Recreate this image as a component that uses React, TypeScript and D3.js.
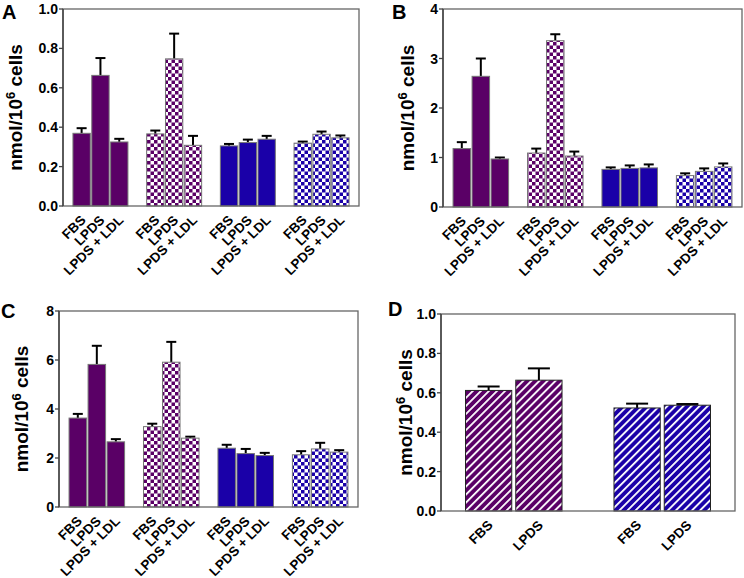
import React from 'react';
import * as d3 from 'd3';

const PURPLE = '#5a0066';
const BLUE = '#1a00a8';

const CONDS3 = ['FBS', 'LPDS', 'LPDS + LDL'];
const CONDS2 = ['FBS', 'LPDS'];
const GROUPS4 = ['purple-solid', 'purple-check', 'blue-solid', 'blue-check'];
const GROUPS2 = ['purple-stripe', 'blue-stripe'];

// mean values per group (rows) and condition (cols)
const A_MEAN = [[0.369, 0.663, 0.325], [0.366, 0.747, 0.308], [0.305, 0.322, 0.339], [0.319, 0.364, 0.346]];
const A_ERR = [[0.026, 0.088, 0.016], [0.017, 0.128, 0.048], [0.010, 0.015, 0.017], [0.008, 0.014, 0.012]];
const B_MEAN = [[1.18, 2.64, 0.97], [1.09, 3.36, 1.03], [0.76, 0.78, 0.79], [0.635, 0.72, 0.81]];
const B_ERR = [[0.13, 0.36, 0.03], [0.09, 0.13, 0.09], [0.04, 0.06, 0.07], [0.045, 0.06, 0.07]];
const C_MEAN = [[3.63, 5.82, 2.66], [3.28, 5.91, 2.81], [2.40, 2.18, 2.10], [2.13, 2.37, 2.24]];
const C_ERR = [[0.17, 0.76, 0.11], [0.12, 0.83, 0.06], [0.14, 0.19, 0.11], [0.15, 0.25, 0.08]];
const D_MEAN = [[0.612, 0.664], [0.523, 0.537]];
const D_ERR = [[0.020, 0.060], [0.022, 0.006]];

const TICKS_1 = [0, 0.2, 0.4, 0.6, 0.8, 1.0];
const TICKS_4 = [0, 1, 2, 3, 4];
const TICKS_8 = [0, 2, 4, 6, 8];

const FILLS: Record<string, string> = {
  'purple-solid': PURPLE,
  'purple-check': 'url(#checkP)',
  'blue-solid': BLUE,
  'blue-check': 'url(#checkB)',
  'purple-stripe': 'url(#stripeP)',
  'blue-stripe': 'url(#stripeB)',
};

const FONT = 'Liberation Sans, Arial, sans-serif';

interface PanelProps {
  letter: string;
  letterX: number;
  letterY: number;
  box: [number, number, number, number]; // left, top, right, bottom
  max: number;
  ticks: number[];
  fmt: (v: number) => string;
  labelX: number;
  groups: string[];
  conds: string[];
  means: number[][];
  errs: number[][];
  outerPad: [number, number];
  capW: number;
  stroke: string;
}

const Panel: React.FC<PanelProps> = (p) => {
  const [left, top, right, bottom] = p.box;
  const y = d3.scaleLinear().domain([0, p.max]).range([bottom, top]);
  const outer = d3.scaleBand<string>().domain(p.groups).range([left, right])
    .paddingInner(p.outerPad[0]).paddingOuter(p.outerPad[1]);
  const inner = d3.scaleBand<string>().domain(p.conds).range([0, outer.bandwidth()]).paddingInner(0.08);

  return (
    <g>
      <text x={p.letterX} y={p.letterY} fontFamily={FONT} fontWeight="bold" fontSize={20}>{p.letter}</text>
      {p.groups.map((g, gi) => p.conds.map((c, ci) => {
        const x0 = (outer(g) ?? 0) + (inner(c) ?? 0);
        const w = inner.bandwidth();
        const v = p.means[gi][ci];
        const e = p.errs[gi][ci];
        const cx = x0 + w / 2;
        return (
          <g key={g + c}>
            <line x1={cx} x2={cx} y1={y(v)} y2={y(v + e)} stroke="#000" strokeWidth={2} />
            <line x1={cx - p.capW / 2} x2={cx + p.capW / 2} y1={y(v + e)} y2={y(v + e)} stroke="#000" strokeWidth={2} />
            <rect x={x0} y={y(v)} width={w} height={bottom - y(v)} fill={FILLS[g]} stroke={p.stroke} strokeWidth={1} />
            <text transform={`translate(${cx + 5},${bottom + 15}) rotate(-45)`} textAnchor="end"
              fontFamily={FONT} fontWeight="bold" fontSize={13.5}>{c}</text>
          </g>
        );
      }))}
      <rect x={left} y={top} width={right - left} height={bottom - top} fill="none" stroke="#666" strokeWidth={1.3} />
      <line x1={left} x2={left} y1={top} y2={bottom} stroke="#444" strokeWidth={1.5} />
      {p.ticks.map((t) => (
        <g key={t}>
          <line x1={left - 4} x2={left} y1={y(t)} y2={y(t)} stroke="#444" strokeWidth={1.3} />
          <text x={left - 5} y={y(t)} dy="0.36em" textAnchor="end" fontFamily={FONT} fontWeight="bold" fontSize={14}>{p.fmt(t)}</text>
        </g>
      ))}
      <text transform={`translate(${p.labelX},${(top + bottom) / 2}) rotate(-90)`} textAnchor="middle"
        fontFamily={FONT} fontWeight="bold" fontSize={19}>
        nmol/10<tspan dy={-7} fontSize={13}>6</tspan><tspan dy={7}> cells</tspan>
      </text>
    </g>
  );
};

const f1 = d3.format('.1f');
const f0 = d3.format('d');

export default function App() {
  return (
    <svg width={744} height={578} style={{ position: 'absolute', left: 0, top: 0, background: '#fff' }}>
      <defs>
        <pattern id="checkP" width={7} height={7} patternUnits="userSpaceOnUse">
          <rect width={7} height={7} fill="#fff" />
          <rect width={3.5} height={3.5} fill={PURPLE} />
          <rect x={3.5} y={3.5} width={3.5} height={3.5} fill={PURPLE} />
        </pattern>
        <pattern id="checkB" width={7} height={7} patternUnits="userSpaceOnUse">
          <rect width={7} height={7} fill="#fff" />
          <rect width={3.5} height={3.5} fill={BLUE} />
          <rect x={3.5} y={3.5} width={3.5} height={3.5} fill={BLUE} />
        </pattern>
        <pattern id="stripeP" width={5.7} height={10} patternUnits="userSpaceOnUse" patternTransform="rotate(45)">
          <rect width={5.7} height={10} fill={PURPLE} />
          <rect width={1.8} height={10} fill="#fff" />
        </pattern>
        <pattern id="stripeB" width={5.7} height={10} patternUnits="userSpaceOnUse" patternTransform="rotate(45)">
          <rect width={5.7} height={10} fill={BLUE} />
          <rect width={1.8} height={10} fill="#fff" />
        </pattern>
      </defs>
      <Panel letter="A" letterX={2} letterY={19} box={[63, 9, 359, 206]} max={1} ticks={TICKS_1} fmt={f1} labelX={22}
        groups={GROUPS4} conds={CONDS3} means={A_MEAN} errs={A_ERR} outerPad={[0.254, 0.135]} capW={10} stroke="#777" />
      <Panel letter="B" letterX={392} letterY={19} box={[443, 9, 742, 207]} max={4} ticks={TICKS_4} fmt={f0} labelX={414}
        groups={GROUPS4} conds={CONDS3} means={B_MEAN} errs={B_ERR} outerPad={[0.254, 0.135]} capW={10} stroke="#777" />
      <Panel letter="C" letterX={1} letterY={318} box={[59, 311, 358, 507]} max={8} ticks={TICKS_8} fmt={f0} labelX={28}
        groups={GROUPS4} conds={CONDS3} means={C_MEAN} errs={C_ERR} outerPad={[0.254, 0.135]} capW={10} stroke="#777" />
      <Panel letter="D" letterX={388} letterY={316} box={[441, 314, 735, 511]} max={1} ticks={TICKS_1} fmt={f1} labelX={412}
        groups={GROUPS2} conds={CONDS2} means={D_MEAN} errs={D_ERR} outerPad={[0.35, 0.165]} capW={22} stroke="#222" />
    </svg>
  );
}
